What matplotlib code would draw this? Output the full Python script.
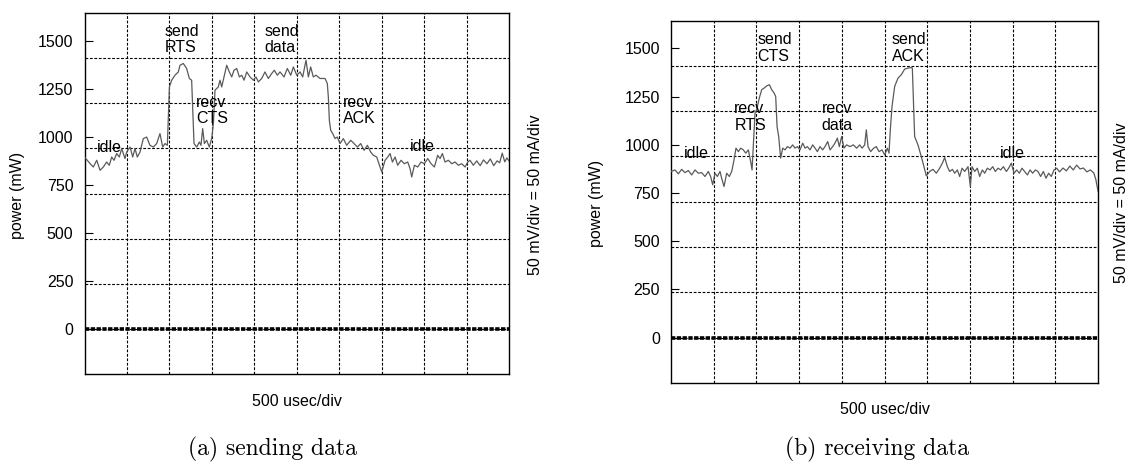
import matplotlib
matplotlib.use('Agg')
import matplotlib.pyplot as plt

plt.rcParams['font.family'] = ['Liberation Sans', 'DejaVu Sans']

# scope settings: 500 us per horizontal division, 235 mW per vertical division
DIV_US = 500
DIV_MW = 235.0
N_XDIV = 10

power_ticks = [0, 250, 500, 750, 1000, 1250, 1500]

# ---- (a) sending data trace ----
send_t = [0, 65, 104, 144, 183, 222, 261, 292, 320, 348, 379, 410, 438, 477, 497,
          536, 568, 595, 622, 654, 693, 732, 771, 811, 850, 889, 921, 948, 976,
          1000, 1027, 1066, 1105, 1125, 1164, 1203, 1235, 1262, 1290, 1321, 1353,
          1372, 1392, 1412, 1439, 1470, 1498, 1518, 1537, 1576, 1596, 1616, 1643,
          1675, 1706, 1734, 1761, 1793, 1824, 1852, 1879, 1911, 1950, 1989, 2020,
          2048, 2087, 2126, 2165, 2205, 2236, 2271, 2303, 2350, 2389, 2429, 2460,
          2500, 2539, 2570, 2609, 2637, 2664, 2695, 2727, 2774, 2833, 2860, 2872,
          2884, 2900, 2924, 2951, 2978, 3010, 3049, 3088, 3136, 3175, 3214, 3253,
          3293, 3332, 3371, 3402, 3442, 3461, 3501, 3540, 3572, 3599, 3627, 3658,
          3689, 3728, 3767, 3807, 3834, 3854, 3886, 3925, 3964, 4003, 4043, 4082,
          4121, 4160, 4188, 4215, 4247, 4286, 4326, 4365, 4404, 4443, 4483, 4514,
          4541, 4580, 4620, 4660, 4700, 4740, 4780, 4820, 4860, 4890, 4920, 4950,
          4975, 5000]
send_mw = [895, 861, 843, 878, 826, 843, 869, 852, 895, 878, 913, 895, 939, 887, 921,
           947, 895, 939, 895, 921, 991, 999, 956, 947, 965, 1017, 947, 965, 956,
           1260, 1295, 1321, 1338, 1373, 1382, 1356, 1304, 1295, 965, 947, 973,
           956, 1043, 965, 982, 947, 991, 1069, 1243, 1260, 1295, 1260, 1312,
           1373, 1338, 1312, 1347, 1356, 1312, 1321, 1295, 1338, 1312, 1295, 1312,
           1286, 1304, 1338, 1304, 1330, 1347, 1321, 1338, 1312, 1356, 1321, 1364,
           1321, 1338, 1312, 1399, 1312, 1364, 1312, 1321, 1304, 1304, 1278, 1208,
           1086, 1034, 1017, 991, 999, 965, 991, 956, 982, 965, 947, 965,
           930, 956, 921, 904, 895, 869, 817, 878, 895, 913, 869, 895,
           852, 878, 860, 869, 835, 791, 852, 843, 869, 860, 887, 860,
           843, 904, 887, 913, 869, 878, 860, 869, 852, 860, 843, 869,
           878, 852, 875, 850, 880, 860, 885, 850, 875, 865, 915, 870,
           890, 875]
send_labels = ['idle', 'send\nRTS', 'recv\nCTS', 'send\ndata', 'recv\nACK', 'idle']
send_label_t = [151, 948, 1313, 2118, 3049, 3834]
send_label_mw = [982, 1590, 1220, 1590, 1220, 991]

# ---- (b) receiving data trace ----
recv_t = [0, 47, 86, 125, 164, 203, 242, 281, 320, 359, 398, 437, 464, 488, 515,
          543, 574, 593, 621, 652, 683, 711, 738, 761, 789, 816, 847, 875, 906,
          933, 949, 964, 984, 1003, 1034, 1062, 1089, 1121, 1152, 1179, 1207,
          1226, 1242, 1261, 1284, 1308, 1335, 1363, 1394, 1425, 1452, 1480, 1511,
          1542, 1570, 1597, 1628, 1659, 1687, 1714, 1745, 1776, 1803, 1835, 1862,
          1893, 1920, 1948, 1971, 1998, 2026, 2057, 2096, 2135, 2174, 2209, 2237,
          2268, 2287, 2307, 2338, 2373, 2404, 2436, 2471, 2502, 2533, 2553, 2568,
          2588, 2619, 2658, 2697, 2736, 2775, 2814, 2826, 2853, 2892, 2931, 2962,
          2990, 3029, 3068, 3107, 3146, 3177, 3205, 3236, 3263, 3295, 3322, 3353,
          3380, 3408, 3439, 3478, 3505, 3525, 3556, 3587, 3614, 3646, 3673, 3704,
          3736, 3767, 3798, 3829, 3861, 3892, 3927, 3954, 3985, 4017, 4048, 4079,
          4110, 4141, 4173, 4204, 4235, 4266, 4297, 4328, 4360, 4391, 4422, 4453,
          4485, 4516, 4550, 4590, 4630, 4670, 4710, 4750, 4790, 4830, 4870, 4910,
          4950, 4975, 5000]
recv_mw = [862, 870, 850, 873, 856, 867, 844, 870, 853, 856, 836, 862, 836, 793, 853,
           836, 862, 827, 784, 853, 836, 862, 922, 983, 965, 983, 974, 957, 974,
           913, 870, 1000, 1165, 1182, 1243, 1286, 1294, 1306, 1312, 1286, 1269,
           1251, 1095, 1043, 931, 983, 974, 991, 983, 1000, 983, 991, 974,
           1009, 983, 991, 974, 1000, 983, 965, 991, 974, 991, 1017, 974,
           991, 1009, 1035, 991, 1043, 983, 1000, 991, 1000, 983, 1000, 983,
           1000, 1078, 991, 965, 983, 991, 965, 974, 948, 983, 957, 1078,
           1199, 1303, 1346, 1364, 1393, 1398, 1401, 1398, 1043, 1000, 939, 887,
           839, 862, 873, 853, 879, 905, 934, 887, 862, 873, 853, 870,
           836, 879, 862, 887, 784, 887, 862, 879, 836, 870, 853, 879,
           870, 887, 862, 879, 870, 887, 862, 879, 905, 853, 870, 853,
           879, 862, 844, 870, 853, 870, 862, 836, 862, 827, 853, 836,
           870, 879, 860, 880, 865, 890, 870, 895, 875, 880, 860, 870,
           855, 820, 760]
recv_labels = ['idle', 'recv\nRTS', 'send\nCTS', 'recv\ndata', 'send\nACK', 'idle']
recv_label_t = [156, 742, 1011, 1764, 2584, 3849]
recv_label_mw = [992, 1225, 1583, 1225, 1583, 992]

# zero-current reference trace
zero_t = [0, 5000]
zero_mw = [0, 0]

assert len(send_t) == len(send_mw), (len(send_t), len(send_mw))
assert len(recv_t) == len(recv_mw), (len(recv_t), len(recv_mw))

FS = 11.5


def draw_panel(ax, t, mw, labels, label_t, label_mw):
    ax.set_xlim(0, N_XDIV * DIV_US)
    ax.set_ylim(-DIV_MW, 7 * DIV_MW)

    # scope graticule
    for k in range(1, N_XDIV):
        ax.axvline(k * DIV_US, color='black', lw=0.8, ls=(0, (2.5, 1.5)), zorder=1)
    for k in range(0, 7):
        ax.axhline(k * DIV_MW, color='black', lw=0.8, ls=(0, (2.5, 1.5)), zorder=1)

    ax.plot(zero_t, zero_mw, color='black', lw=2.6, ls=(0, (1.2, 0.4)), zorder=3)
    ax.plot(t, mw, color='#5a5a5a', lw=0.9, zorder=4)

    for txt, x, y in zip(labels, label_t, label_mw):
        ax.text(x, y, txt, ha='left', va='top', fontsize=FS, linespacing=1.15,
                zorder=5)

    ax.set_xticks([])
    ax.set_yticks(power_ticks)
    ax.tick_params(axis='y', direction='in', length=5.5, width=0.8, pad=8,
                   labelsize=FS, left=True, right=False)
    for sp in ax.spines.values():
        sp.set_linewidth(1.0)


W, H = 1135, 470
fig = plt.figure(figsize=(W / 100, H / 100), dpi=100)

ax_a = fig.add_axes([84.5 / W, 1 - 374 / H, 424.5 / W, 361 / H])
ax_b = fig.add_axes([671 / W, 1 - 383 / H, 427 / W, 362.5 / H])

draw_panel(ax_a, send_t, send_mw, send_labels, send_label_t, send_label_mw)
draw_panel(ax_b, recv_t, recv_mw, recv_labels, recv_label_t, recv_label_mw)

# axis titles, placed around each scope frame
fig.text(18 / W, 1 - 195 / H, 'power (mW)', rotation=90, ha='center', va='center', fontsize=FS)
fig.text(596 / W, 1 - 203 / H, 'power (mW)', rotation=90, ha='center', va='center', fontsize=FS)
fig.text(535 / W, 1 - 195 / H, '50 mV/div = 50 mA/div', rotation=90, ha='center',
         va='center', fontsize=FS)
fig.text(1122 / W, 1 - 203 / H, '50 mV/div = 50 mA/div', rotation=90, ha='center',
         va='center', fontsize=FS)
fig.text(296.8 / W, 1 - 401 / H, '500 usec/div', ha='center', va='center', fontsize=FS)
fig.text(884.5 / W, 1 - 410 / H, '500 usec/div', ha='center', va='center', fontsize=FS)

# subfigure captions
fig.text(272 / W, 1 - 455 / H, '(a) sending data', ha='center', va='baseline',
         fontsize=17, family='cmr10')
fig.text(877 / W, 1 - 455 / H, '(b) receiving data', ha='center', va='baseline',
         fontsize=17, family='cmr10')

fig.savefig('out.png', dpi=100)
